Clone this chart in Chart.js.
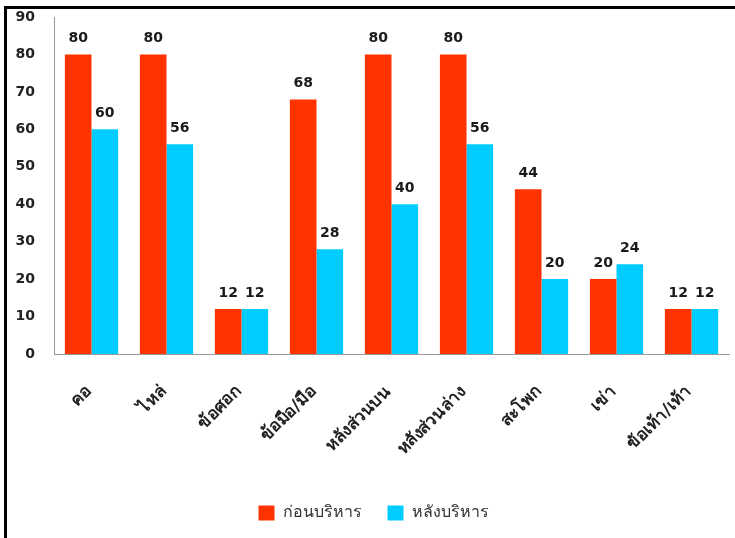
<!DOCTYPE html>
<html>
<head>
<meta charset="utf-8">
<script src="https://cdn.jsdelivr.net/npm/chart.js@4"></script>
<style>
  html, body { margin: 0; padding: 0; background: #fff; }
  #wrap { position: relative; width: 735px; height: 538px; }
  #frame {
    position: absolute; left: 4px; top: 6px; right: 0; bottom: 0;
    border-left: 3px solid #000; border-top: 3px solid #000;
    pointer-events: none;
  }
</style>
</head>
<body>
<div id="wrap">
  <canvas id="chart" width="735" height="538"></canvas>
  <div id="frame"></div>
</div>
<script>
  const categories = ['คอ', 'ไหล่', 'ข้อศอก', 'ข้อมือ/มือ', 'หลังส่วนบน', 'หลังส่วนล่าง', 'สะโพก', 'เข่า', 'ข้อเท้า/เท้า'];
  const before = [80, 80, 12, 68, 80, 80, 44, 20, 12];
  const after = [60, 56, 12, 28, 40, 56, 20, 24, 12];
  const seriesNames = ['ก่อนบริหาร', 'หลังบริหาร'];

  const FONT = "'DejaVu Sans', sans-serif";

  // value printed above each bar
  const barValues = {
    id: 'barValues',
    afterDatasetsDraw(chart) {
      const ctx = chart.ctx;
      ctx.save();
      ctx.font = 'bold 14px ' + FONT;
      ctx.fillStyle = '#1a1a1a';
      ctx.textAlign = 'center';
      ctx.textBaseline = 'bottom';
      chart.data.datasets.forEach((ds, i) => {
        chart.getDatasetMeta(i).data.forEach((bar, j) => {
          ctx.fillText(String(ds.data[j]), bar.x, bar.y - 9);
        });
      });
      ctx.restore();
    },
  };

  // legend sits a little right of the canvas centre
  const legendNudge = {
    id: 'legendNudge',
    afterLayout(chart) {
      chart.legend.left += 9;
      chart.legend.right += 9;
    },
  };

  new Chart(document.getElementById('chart'), {
    type: 'bar',
    data: {
      labels: categories,
      datasets: [
        { label: seriesNames[0], data: before, backgroundColor: '#ff3300' },
        { label: seriesNames[1], data: after, backgroundColor: '#00ccff' },
      ],
    },
    options: {
      responsive: false,
      animation: false,
      layout: { padding: { top: 17, right: 6, bottom: 7, left: 0 } },
      datasets: { bar: { categoryPercentage: 0.71, barPercentage: 1 } },
      plugins: {
        legend: {
          position: 'bottom',
          labels: {
            boxWidth: 16, boxHeight: 15, padding: 26,
            color: '#333',
            font: { family: FONT, size: 16 },
          },
        },
        tooltip: { enabled: false },
      },
      scales: {
        x: {
          grid: { display: false },
          border: { color: '#999', width: 1 },
          ticks: {
            minRotation: 45, maxRotation: 45,
            padding: 20,
            labelOffset: -3,
            color: '#222',
            font: { family: FONT, size: 17, weight: 'bold' },
          },
          afterFit: (s) => { s.height = 125; s.paddingTop = 0; s.paddingBottom = 0; },
        },
        y: {
          min: 0, max: 90,
          grid: { display: false },
          border: { color: '#999', width: 1 },
          ticks: {
            stepSize: 10,
            padding: 11,
            color: '#222',
            font: { family: FONT, size: 14, weight: 'bold' },
          },
          afterFit: (s) => { s.width = 54; s.paddingTop = 0; s.paddingBottom = 0; },
        },
      },
    },
    plugins: [barValues, legendNudge],
  });
</script>
</body>
</html>
